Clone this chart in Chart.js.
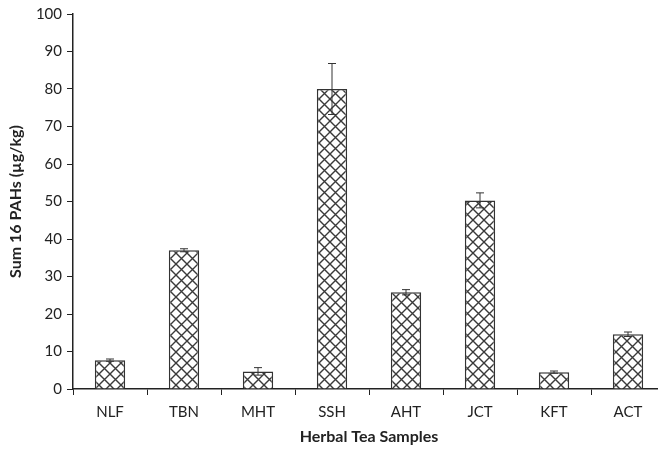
<!DOCTYPE html>
<html>
<head>
<meta charset="utf-8">
<script src="https://cdn.jsdelivr.net/npm/chart.js@4"></script>
<style>
  html, body { margin: 0; padding: 0; background: #fff; overflow: hidden; }
</style>
</head>
<body>
<canvas id="chart" width="672" height="452"></canvas>
<script>
const samples = ["NLF", "TBN", "MHT", "SSH", "AHT", "JCT", "KFT", "ACT"];
const sumPAHs = [7.7, 37.0, 4.7, 80.0, 25.8, 50.3, 4.5, 14.6];
const errors = [0.3, 0.4, 1.0, 6.8, 0.7, 2.0, 0.3, 0.6];

// crosshatch fill like the original figure
function hatch() {
  const c = document.createElement("canvas");
  c.width = 11;
  c.height = 11;
  const g = c.getContext("2d");
  g.fillStyle = "#fff";
  g.fillRect(0, 0, 11, 11);
  g.strokeStyle = "#3a3a3a";
  g.lineWidth = 1.4;
  g.beginPath();
  g.moveTo(0, 0);
  g.lineTo(11, 11);
  g.moveTo(11, 0);
  g.lineTo(0, 11);
  g.stroke();
  return g.createPattern(c, "repeat");
}

const errorBars = {
  id: "errorBars",
  afterDatasetsDraw(chart) {
    const ctx = chart.ctx;
    const y = chart.scales.y;
    const meta = chart.getDatasetMeta(0);
    ctx.save();
    ctx.strokeStyle = "#333";
    ctx.lineWidth = 1;
    meta.data.forEach(function (bar, i) {
      const top = y.getPixelForValue(sumPAHs[i] + errors[i]);
      const bot = y.getPixelForValue(sumPAHs[i] - errors[i]);
      ctx.beginPath();
      ctx.moveTo(bar.x, top);
      ctx.lineTo(bar.x, bot);
      ctx.moveTo(bar.x - 4, top);
      ctx.lineTo(bar.x + 4, top);
      ctx.moveTo(bar.x - 4, bot);
      ctx.lineTo(bar.x + 4, bot);
      ctx.stroke();
    });
    ctx.restore();
  },
};

Chart.defaults.font.family = "Lato, 'Liberation Sans', sans-serif";
Chart.defaults.font.size = 15;
Chart.defaults.color = "#222";

new Chart(document.getElementById("chart"), {
  type: "bar",
  data: {
    labels: samples,
    datasets: [
      {
        data: sumPAHs,
        backgroundColor: hatch(),
        borderColor: "#333",
        borderWidth: 1.5,
        barPercentage: 0.41,
        categoryPercentage: 1,
      },
    ],
  },
  options: {
    responsive: false,
    animation: false,
    layout: { padding: { top: 13, right: 7, left: 2, bottom: 2 } },
    plugins: {
      legend: { display: false },
      tooltip: { enabled: false },
    },
    scales: {
      x: {
        grid: { drawOnChartArea: false, tickLength: 6, color: "#222" },
        border: { color: "#222", width: 1.5 },
        ticks: { padding: 8 },
        title: {
          display: true,
          text: "Herbal Tea Samples",
          font: { weight: "bold", size: 16 },
          padding: { top: 8 },
        },
        afterFit: function (s) { s.height = 61; },
      },
      y: {
        min: 0,
        max: 100,
        ticks: { stepSize: 10, padding: 5 },
        grid: { drawOnChartArea: false, tickLength: 6, color: "#222" },
        border: { color: "#222", width: 1.5 },
        title: {
          display: true,
          text: "Sum 16 PAHs (µg/kg)",
          font: { weight: "bold", size: 16 },
          padding: { bottom: 6 },
        },
        afterFit: function (s) { s.width = 71; },
      },
    },
  },
  plugins: [errorBars],
});
</script>
</body>
</html>
